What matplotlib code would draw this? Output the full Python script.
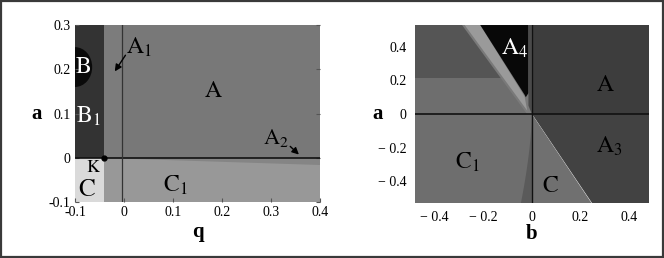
import matplotlib
matplotlib.use("Agg")
import matplotlib.pyplot as plt
from matplotlib.patches import Polygon, Ellipse, Rectangle
import numpy as np

plt.rcParams['font.family'] = ['Liberation Serif', 'DejaVu Serif']
plt.rcParams['mathtext.fontset'] = 'stix'

# ---------------- left panel data (q, a) ----------------
q_lim = [-0.1, 0.4]
a_lim_left = [-0.1, 0.3]
q_boundary = -0.04          # B1 / A boundary
q_vline = -0.004            # vertical reference line
b_ellipse_center = [-0.1, 0.205]
b_ellipse_size = [0.07, 0.09]
c1_line_q = [-0.04, 0.4]
c1_line_a = [0.0, -0.016]
left_xticks = [-0.1, 0, 0.1, 0.2, 0.3, 0.4]
left_xticklabels = ['-0.1', '0', '0.1', '0.2', '0.3', '0.4']
left_yticks = [-0.1, 0, 0.1, 0.2, 0.3]
left_yticklabels = ['-0.1', '0', '0.1', '0.2', '0.3']
left_labels = [r'$\mathrm{B}$', r'$\mathrm{B}_1$', r'$\mathrm{A}_1$', r'$\mathrm{A}$',
               r'$\mathrm{A}_2$', r'$\mathrm{K}$', r'$\mathrm{C}$', r'$\mathrm{C}_1$']
left_label_q = [-0.083, -0.072, 0.03, 0.183, 0.31, -0.062, -0.075, 0.105]
left_label_a = [0.203, 0.093, 0.25, 0.15, 0.045, -0.022, -0.072, -0.062]
left_label_col = ['white', 'white', 'black', 'black', 'black', 'black', 'black', 'black']
left_label_size = [17, 17, 17, 17, 16, 13, 18, 17]
arrow_from_q = [0.006, 0.335]
arrow_from_a = [0.237, 0.03]
arrow_to_q = [-0.022, 0.361]
arrow_to_a = [0.19, 0.003]

# ---------------- right panel data (b, a) ----------------
b_lim = [-0.48, 0.48]
a_lim_right = [-0.53, 0.53]
a_split = 0.215                       # horizontal boundary in b<0 half
strip_outer_b = [-0.286, -0.019]      # boundary line (top, a=0)
strip_inner_b = [-0.212, -0.03]       # A4 left edge (top, bottom tip)
a4_tip_a = 0.105
a4_right_b = -0.014
a3_line_b = [0.0, 0.245]              # C / A3 boundary (a=0, a=bottom)
wedge_bottom_b = -0.045               # dark wedge below origin
right_ticks = [-0.4, -0.2, 0, 0.2, 0.4]
right_ticklabels = ['\u2212 0.4', '\u2212 0.2', '0', '0.2', '0.4']
right_labels = [r'$\mathrm{A}_4$', r'$\mathrm{A}$', r'$\mathrm{A}_3$', r'$\mathrm{C}_1$', r'$\mathrm{C}$']
right_label_b = [-0.072, 0.3, 0.32, -0.265, 0.075]
right_label_a = [0.39, 0.17, -0.19, -0.285, -0.43]
right_label_col = ['white', 'black', 'black', 'black', 'black']

fig = plt.figure(figsize=(6.64, 2.58), dpi=100)
fig.patches.append(Rectangle((0.002, 0.004), 0.996, 0.992, transform=fig.transFigure,
                             fill=False, edgecolor='#3a3a3a', linewidth=1.6))

# ---------- left axes ----------
ax1 = fig.add_axes([0.113, 0.217, 0.369, 0.686])
ax1.set_xlim(q_lim)
ax1.set_ylim(a_lim_left)
q0, q1 = q_lim
am, aM = a_lim_left
ax1.add_patch(Polygon([[q0, 0], [q1, 0], [q1, aM], [q0, aM]], color='#787878', lw=0))
ax1.add_patch(Polygon([[q_boundary, 0], [q_vline, 0], [q_vline, aM], [q_boundary, aM]],
                      color='#7c7c7c', lw=0))
ax1.add_patch(Polygon([[q0, am], [q1, am], [q1, 0], [q0, 0]], color='#989898', lw=0))
ax1.add_patch(Polygon([[c1_line_q[0], c1_line_a[0]], [c1_line_q[1], 0],
                       [c1_line_q[1], c1_line_a[1]]], color='#858585', lw=0))
ax1.add_patch(Polygon([[q0, 0], [q_boundary, 0], [q_boundary, aM], [q0, aM]], color='#333333', lw=0))
ax1.add_patch(Ellipse(b_ellipse_center, b_ellipse_size[0], b_ellipse_size[1], color='#0a0a0a', lw=0))
ax1.add_patch(Polygon([[q0, am], [q_boundary, am], [q_boundary, 0], [q0, 0]], color='#dadada', lw=0))
ax1.axhline(0, color='#111111', lw=1.2)
ax1.axvline(q_vline, color='#333333', lw=0.9)
ax1.plot([q_boundary], [0], 'o', color='black', ms=3.5)
for t, x, y, c, s in zip(left_labels, left_label_q, left_label_a, left_label_col, left_label_size):
    ax1.text(x, y, t, color=c, fontsize=s, ha='center', va='center')
for fx, fy, tx, ty in zip(arrow_from_q, arrow_from_a, arrow_to_q, arrow_to_a):
    ax1.annotate('', xy=(tx, ty), xytext=(fx, fy),
                 arrowprops=dict(arrowstyle='-|>', color='black', lw=1.0, mutation_scale=10))
ax1.set_xticks(left_xticks)
ax1.set_xticklabels(left_xticklabels)
ax1.set_yticks(left_yticks)
ax1.set_yticklabels(left_yticklabels)
ax1.tick_params(direction='in', length=3, labelsize=10, top=False, right=True, pad=3, color='#555555')
for sp in ax1.spines.values():
    sp.set_visible(False)
ax1.set_xlabel('q', fontsize=15, fontweight='bold', labelpad=2)
ax1.set_ylabel('a', fontsize=15, fontweight='bold', rotation=0, labelpad=9, va='center')

# ---------- right axes ----------
ax2 = fig.add_axes([0.625, 0.213, 0.352, 0.69])
ax2.set_xlim(b_lim)
ax2.set_ylim(a_lim_right)
b0, b1 = b_lim
rm, rM = a_lim_right
ax2.add_patch(Polygon([[b0, rm], [0, rm], [0, a_split], [b0, a_split]], color='#6e6e6e', lw=0))
ax2.add_patch(Polygon([[b0, a_split], [0, a_split], [0, rM], [b0, rM]], color='#555555', lw=0))
# lighter region right of the outer boundary line
ax2.add_patch(Polygon([[strip_outer_b[0], rM], [0, rM], [0, 0], [strip_outer_b[1], 0]],
                      color='#7a7a7a', lw=0))
ax2.add_patch(Polygon([[strip_outer_b[0] + 0.01, rM], [strip_inner_b[0], rM],
                       [strip_inner_b[1], a4_tip_a], [strip_outer_b[1], 0.02]],
                      color='#9a9a9a', lw=0))
ax2.add_patch(Polygon([[strip_inner_b[0], rM], [a4_right_b, rM], [a4_right_b, a4_tip_a + 0.02],
                       [strip_inner_b[1] + 0.005, a4_tip_a - 0.005], [strip_inner_b[1], a4_tip_a + 0.01]],
                      color='#080808', lw=0))
ax2.add_patch(Polygon([[a4_right_b, rM], [0, rM], [0, 0], [a4_right_b, 0.05]], color='#4a4a4a', lw=0))
# right half
ax2.add_patch(Polygon([[0, 0], [b1, 0], [b1, rM], [0, rM]], color='#3d3d3d', lw=0))
ax2.add_patch(Polygon([[0, 0], [b1, 0], [b1, rm], [a3_line_b[1], rm]], color='#424242', lw=0))
ax2.add_patch(Polygon([[0, 0], [a3_line_b[1], rm], [0, rm]], color='#707070', lw=0))
aa = np.linspace(0, rm, 30)
wb = wedge_bottom_b * (aa / rm) ** 1.6
ax2.add_patch(Polygon(np.column_stack([np.r_[wb, 0], np.r_[aa, rm]]), color='#5a5a5a', lw=0))
ax2.axhline(0, color='#111111', lw=1.2)
ax2.axvline(0, color='#111111', lw=1.0)
for t, x, y, c in zip(right_labels, right_label_b, right_label_a, right_label_col):
    ax2.text(x, y, t, color=c, fontsize=17, ha='center', va='center')
ax2.set_xticks(right_ticks)
ax2.set_xticklabels(right_ticklabels)
ax2.set_yticks(right_ticks)
ax2.set_yticklabels(right_ticklabels)
ax2.tick_params(length=0, labelsize=10, pad=6)
for sp in ax2.spines.values():
    sp.set_visible(False)
ax2.set_xlabel('b', fontsize=15, fontweight='bold', labelpad=0)
ax2.set_ylabel('a', fontsize=15, fontweight='bold', rotation=0, labelpad=0, va='center')

fig.savefig('out.png', dpi=100)
